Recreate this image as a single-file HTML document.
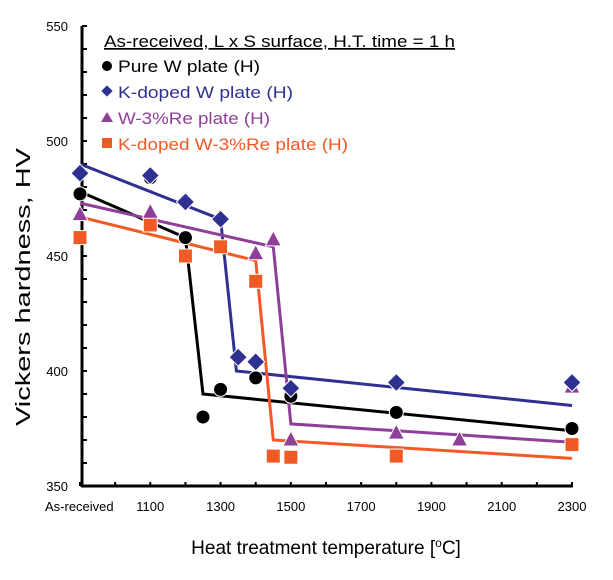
<!DOCTYPE html>
<html><head><meta charset="utf-8"><style>
body{margin:0;background:#fff;}
svg text{font-family:"Liberation Sans",sans-serif;}
</style></head><body>
<svg id="chart" width="613" height="575" viewBox="0 0 613 575" xmlns="http://www.w3.org/2000/svg">
<g id="axes"></g>
<g id="lines"></g>
<g id="marks"></g>
<g id="legend">
 <text x="104" y="47" font-size="17" textLength="351" lengthAdjust="spacingAndGlyphs" text-decoration="underline">As-received,  L x S surface, H.T. time = 1 h</text>
 <circle cx="107" cy="66" r="5" fill="#000"/>
 <text x="118" y="72" font-size="17" textLength="142" lengthAdjust="spacingAndGlyphs" fill="#000">Pure W plate (H)</text>
 <rect x="103" y="87" width="8" height="8" fill="#2e3192" transform="rotate(45 107 91)"/>
 <text x="118" y="98" font-size="17" textLength="175" lengthAdjust="spacingAndGlyphs" fill="#2e3192">K-doped W plate (H)</text>
 <polygon points="107,112 113,122 101,122" fill="#8e3f98"/>
 <text x="118" y="124" font-size="17" textLength="152" lengthAdjust="spacingAndGlyphs" fill="#8e3f98">W-3%Re plate (H)</text>
 <rect x="102" y="138" width="10" height="10" fill="#f15a24"/>
 <text x="118" y="150" font-size="17" textLength="230" lengthAdjust="spacingAndGlyphs" fill="#f15a24">K-doped W-3%Re plate (H)</text>
</g>
<text transform="translate(30 287) rotate(-90)" text-anchor="middle" font-size="20" textLength="278" lengthAdjust="spacingAndGlyphs">Vickers hardness, HV</text>
<text x="326" y="554" text-anchor="middle" font-size="19">Heat treatment temperature [<tspan font-size="12" dy="-7">o</tspan><tspan dy="7">C]</tspan></text>
</svg>
<script>
const xTickLabels = ["As-received","1100","1300","1500","1700","1900","2100","2300"];
const xTickValues = [900,1100,1300,1500,1700,1900,2100,2300];
const yTickValues = [350,400,450,500,550];
const pureT = [900,1100,1200,1250,1300,1400,1500,1800,2300];
const pureHV = [477,484,458,380,392,397,389,382,375];
const kwT = [900,1100,1200,1300,1350,1400,1500,1800,2300];
const kwHV = [486,485,473.5,466,406,404,392.5,395,395];
const reT = [900,1100,1400,1450,1500,1800,1980,2300];
const reHV = [468,469,451,457,370,373,370,393];
const kreT = [900,1100,1200,1300,1400,1450,1500,1800,2300];
const kreHV = [458,463.5,450,454,439,363,362.5,363,368];
const pureLineT = [900,1200,1250,2300];
const pureLineHV = [478,458,390,374];
const kwLineT = [900,1300,1345,2300];
const kwLineHV = [490,466,400,385];
const reLineT = [900,1450,1500,2300];
const reLineHV = [473,454,377,369];
const kreLineT = [900,1400,1450,2300];
const kreLineHV = [467,448,370,362];

const NS="http://www.w3.org/2000/svg";
const X0=80,X1=572,Y0=486,Y1=26;
function xs(t){return X0+(t-900)/(2300-900)*(X1-X0);}
function ys(v){return Y0-(v-350)/(550-350)*(Y0-Y1);}
function mk(tag,attrs,parent){const e=document.createElementNS(NS,tag);for(const k in attrs)e.setAttribute(k,attrs[k]);parent.appendChild(e);return e;}
const axes=document.getElementById('axes');
let yAxis=mk('line',{x1:82,y1:Y1,x2:82,y2:Y0+1,stroke:'#000','stroke-width':3},axes);


let xAxis=mk('line',{x1:81,y1:Y0,x2:X1+1,y2:Y0,stroke:'#000','stroke-width':3},axes);


for(let v=350;v<=550;v+=10){
 const t=mk('line',{x1:82,y1:ys(v),x2:87,y2:ys(v),stroke:'#000','stroke-width':2},axes);
 
 
}
yTickValues.forEach(v=>{
 const t=mk('text',{x:68,y:ys(v)+5,'text-anchor':'end','font-size':13},axes);t.textContent=v;
 
 
});
for(let T=900;T<=2300;T+=100){
 const t=mk('line',{x1:xs(T),y1:Y0,x2:xs(T),y2:Y0-4,stroke:'#000','stroke-width':2},axes);
 
 
}
xTickLabels.forEach((s,i)=>{
 const T=xTickValues[i];
 const t=mk('text',{x:i==0?45:xs(T),y:511,'text-anchor':i==0?'start':'middle','font-size':13},axes);t.textContent=s;
 
 
});
const lines=document.getElementById('lines'),marks=document.getElementById('marks');
function line(T,V,col,name){
 const p=mk('polyline',{points:T.map((t,i)=>xs(t)+','+ys(V[i])).join(' '),fill:'none',stroke:col,'stroke-width':3},lines);
 
 
}
line(kwLineT,kwLineHV,'#2e3192','k-doped-w-line');
line(pureLineT,pureLineHV,'#000','pure-w-line');
line(reLineT,reLineHV,'#8e3f98','w-re-line');
line(kreLineT,kreLineHV,'#f15a24','k-doped-w-re-line');
function pts(T,V,type,col,name){
 T.forEach((t,i)=>{
  const x=xs(t),y=ys(V[i]);let e;
  if(type=='c')e=mk('circle',{cx:x,cy:y,r:7,fill:col,stroke:'#fff','stroke-width':1},marks);
  else if(type=='d')e=mk('polygon',{points:`${x},${y-9} ${x+9},${y} ${x},${y+9} ${x-9},${y}`,fill:col,stroke:'#fff','stroke-width':1},marks);
  else if(type=='t')e=mk('polygon',{points:`${x},${y-9} ${x+8},${y+6} ${x-8},${y+6}`,fill:col,stroke:'#fff','stroke-width':1},marks);
  else e=mk('rect',{x:x-7,y:y-7,width:14,height:14,fill:col,stroke:'#fff','stroke-width':1},marks);
  
  
 });
}
pts(kreT,kreHV,'s','#f15a24','k-doped-w-re-point');
pts(reT,reHV,'t','#8e3f98','w-re-point');
pts(pureT,pureHV,'c','#000','pure-w-point');
pts(kwT,kwHV,'d','#2e3192','k-doped-w-point');
</script>
</body></html>
